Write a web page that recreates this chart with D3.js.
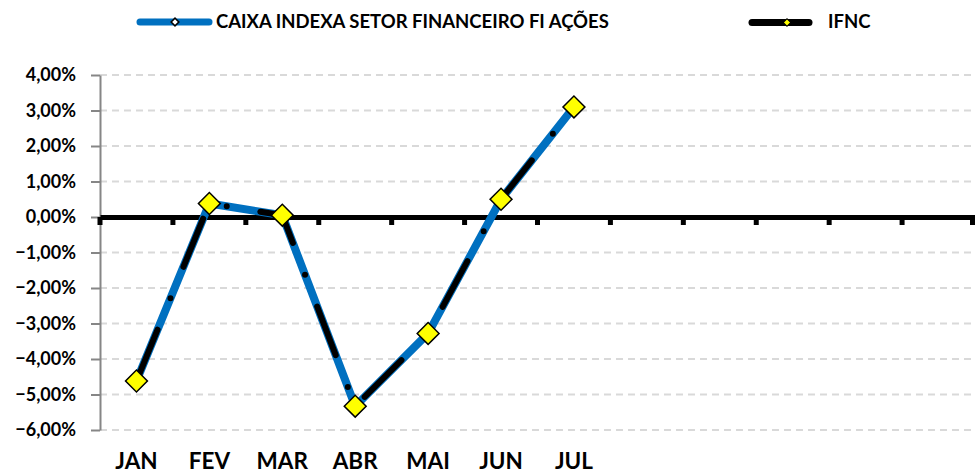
<!DOCTYPE html>
<html>
<head>
<meta charset="utf-8">
<script src="https://cdn.jsdelivr.net/npm/d3@7"></script>
<style>
  body { margin: 0; background: #fff; }
  text { font-family: Lato, "Open Sans", sans-serif; font-weight: bold; fill: #000; }
</style>
</head>
<body>
<script>
// data
const months = ["JAN", "FEV", "MAR", "ABR", "MAI", "JUN", "JUL", "", "", "", "", ""];
const caixa = [-4.62, 0.38, 0.05, -5.33, -3.28, 0.50, 3.10];
const ifnc = [-4.62, 0.38, 0.05, -5.33, -3.28, 0.50, 3.10];
const seriesNames = ["CAIXA INDEXA SETOR FINANCEIRO FI AÇÕES", "IFNC"];
const yTicks = [4, 3, 2, 1, 0, -1, -2, -3, -4, -5, -6];

const width = 975, height = 474;
const margin = { top: 75, right: 0, bottom: 44, left: 100 };

const svg = d3.select("body").append("svg")
  .attr("width", width)
  .attr("height", height);

const x = d3.scaleBand()
  .domain(d3.range(months.length))
  .range([margin.left, width]);

const y = d3.scaleLinear()
  .domain([-6, 4])
  .range([height - margin.bottom, margin.top]);

const fmt = v => d3.format(".2f")(v).replace(".", ",") + "%";

//grid
svg.append("g")
  .selectAll("line")
  .data(yTicks.filter(d => d !== 0))
  .join("line")
  .attr("x1", margin.left)
  .attr("x2", width)
  .attr("y1", d => y(d))
  .attr("y2", d => y(d))
  .attr("stroke", "#d9d9d9")
  .attr("stroke-width", 2)
  .attr("stroke-dasharray", "7,5");

// y axis
const yAxis = svg.append("g")
  .attr("transform", "translate(" + margin.left + ",0)")
  .call(d3.axisLeft(y).tickValues(yTicks).tickFormat(fmt).tickSize(9).tickSizeOuter(0).tickPadding(15));
yAxis.select(".domain").attr("stroke", "#868686").attr("stroke-width", 2);
yAxis.selectAll(".tick line").attr("stroke", "#868686").attr("stroke-width", 2);
yAxis.selectAll("text")
  .style("font-size", "18px")
  .attr("fill", "#000");

// category axis on the zero line
const xAxis = svg.append("g")
  .attr("transform", "translate(0," + y(0) + ")")
  .call(d3.axisBottom(x).tickFormat("").tickSize(0));
xAxis.select(".domain").attr("stroke", "#000").attr("stroke-width", 5);

// tick marks between categories
svg.append("g")
  .selectAll("line")
  .data(d3.range(months.length + 1))
  .join("line")
  .attr("x1", d => Math.min(margin.left + d * x.step(), width - 2.5))
  .attr("x2", d => Math.min(margin.left + d * x.step(), width - 2.5))
  .attr("y1", y(0))
  .attr("y2", y(0) + 8)
  .attr("stroke", "#000")
  .attr("stroke-width", 5);

// month labels at the bottom
svg.append("g")
  .selectAll("text")
  .data(months)
  .join("text")
  .attr("x", (d, i) => x(i) + x.bandwidth() / 2)
  .attr("y", 469)
  .attr("text-anchor", "middle")
  .style("font-size", "22.5px")
  .text(d => d);

const cx = (d, i) => x(i) + x.bandwidth() / 2;
const line = d3.line().x(cx).y(d => y(d));

// CAIXA series
svg.append("path")
  .datum(caixa)
  .attr("d", line)
  .attr("fill", "none")
  .attr("stroke", "#0070c0")
  .attr("stroke-width", 8)
  .attr("stroke-linejoin", "round")
  .attr("stroke-linecap", "round");

const diamond = d3.symbol().type(d3.symbolSquare);

svg.append("g")
  .selectAll("path")
  .data(caixa)
  .join("path")
  .attr("transform", (d, i) => "translate(" + cx(d, i) + "," + y(d) + ") rotate(45)")
  .attr("d", diamond.size(50))
  .attr("fill", "#fff")
  .attr("stroke", "#000")
  .attr("stroke-width", 1.5);

// IFNC series
svg.append("path")
  .datum(ifnc)
  .attr("d", line)
  .attr("fill", "none")
  .attr("stroke", "#000")
  .attr("stroke-width", 6)
  .attr("stroke-linecap", "round")
  .attr("stroke-dasharray", "52 34 0 34")
  .attr("stroke-dashoffset", -3.5);

svg.append("g")
  .selectAll("path")
  .data(ifnc)
  .join("path")
  .attr("transform", (d, i) => "translate(" + cx(d, i) + "," + y(d) + ") rotate(45)")
  .attr("d", diamond.size(240))
  .attr("fill", "#ffff00")
  .attr("stroke", "#000")
  .attr("stroke-width", 1.5);

// legend
const legend = svg.append("g");
const leg1 = legend.append("g");
leg1.append("line")
  .attr("x1", 140).attr("x2", 209).attr("y1", 22).attr("y2", 22)
  .attr("stroke", "#0070c0").attr("stroke-width", 7).attr("stroke-linecap", "round");
leg1.append("path")
  .attr("transform", "translate(175,22) rotate(45)")
  .attr("d", diamond.size(30))
  .attr("fill", "#fff").attr("stroke", "#000").attr("stroke-width", 1.5);
leg1.append("text")
  .attr("x", 216).attr("y", 27.5)
  .style("font-size", "18.5px")
  .text(seriesNames[0]);

const leg2 = legend.append("g");
leg2.append("line")
  .attr("x1", 752).attr("x2", 809).attr("y1", 22.5).attr("y2", 22.5)
  .attr("stroke", "#000").attr("stroke-width", 7).attr("stroke-linecap", "round");
leg2.append("path")
  .attr("transform", "translate(787,22.5) rotate(45)")
  .attr("d", diamond.size(28))
  .attr("fill", "#ffff00").attr("stroke", "#000").attr("stroke-width", 1);
leg2.append("text")
  .attr("x", 828).attr("y", 27.5)
  .style("font-size", "18.5px")
  .text(seriesNames[1]);
</script>
</body>
</html>
